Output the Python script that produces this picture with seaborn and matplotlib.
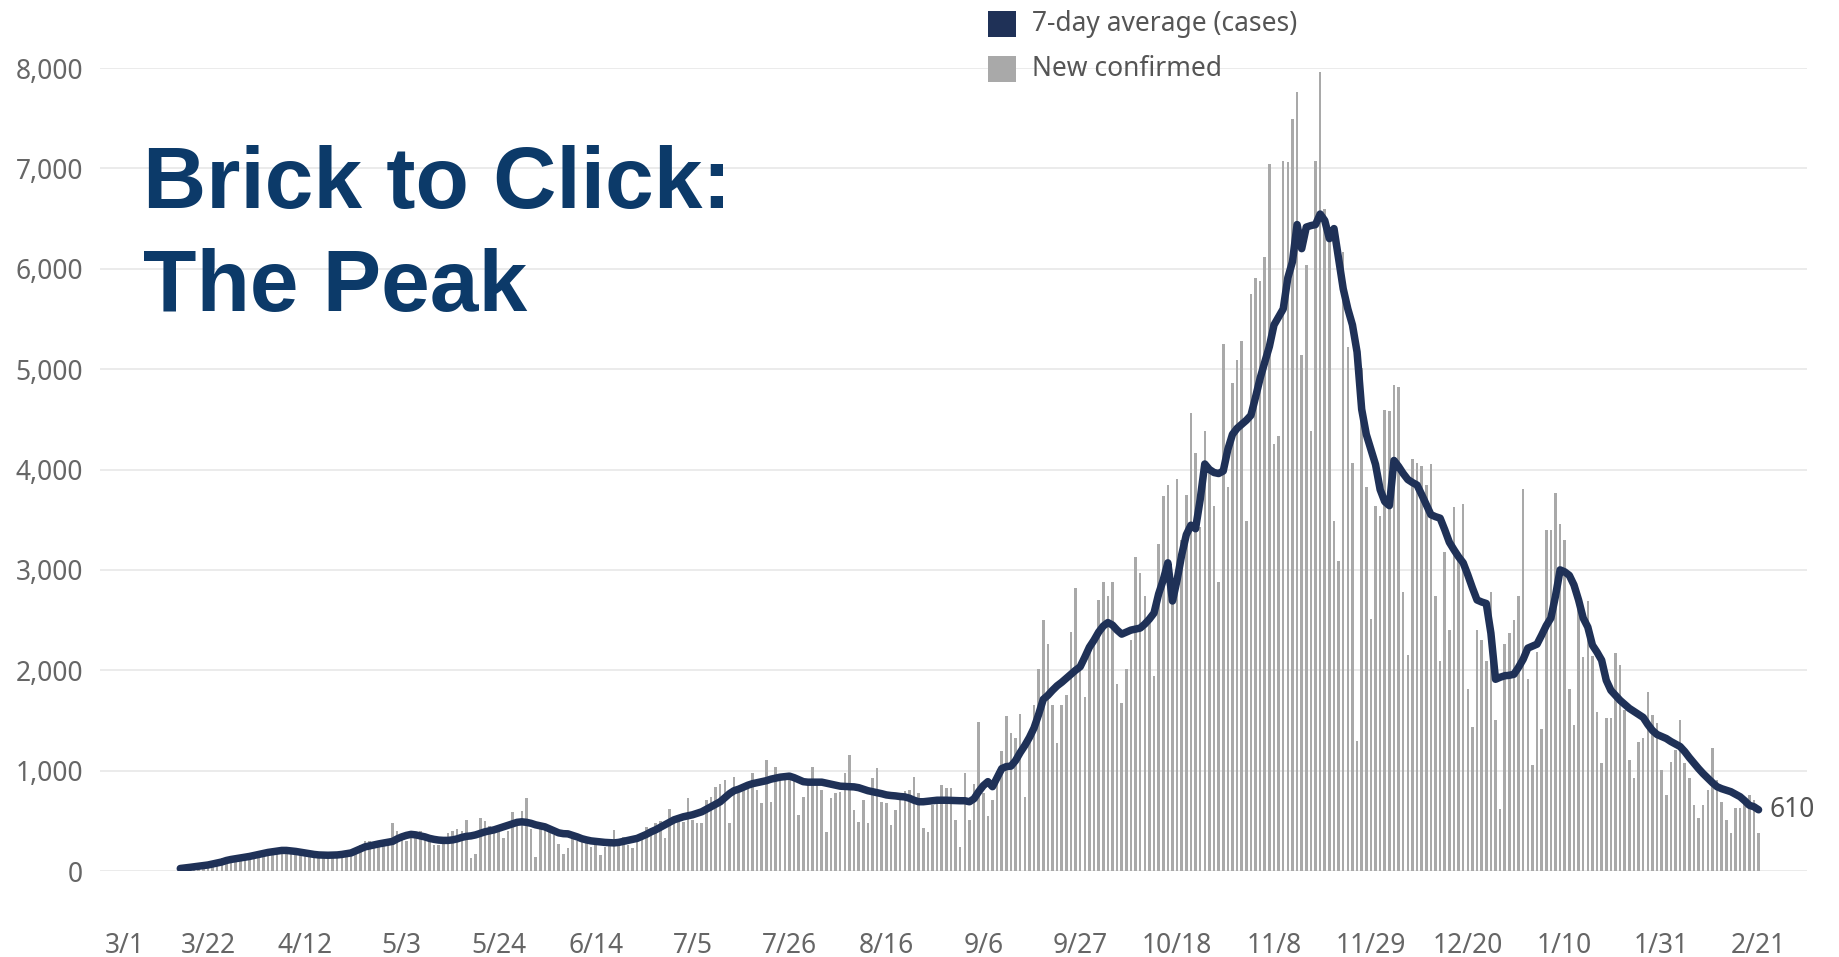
import numpy as np
import pandas as pd
import matplotlib
matplotlib.use("Agg")
import matplotlib.pyplot as plt
import matplotlib.transforms as mtransforms
import seaborn as sns
from matplotlib.patches import Rectangle

# ============================================
# DATA (daily new confirmed cases, 3/16/2020 - 2/21/2021)
# ============================================

mar_cases = [20, 25, 35, 50, 60, 75, 90, 60, 85, 130, 120, 150, 145, 130, 110, 160]
apr_cases = [150, 170, 200, 190, 180, 210, 220, 230, 210, 200,
             190, 170, 160, 170, 180, 150, 165, 150, 140, 170,
             180, 200, 230, 260, 300, 300, 250, 260, 280, 300]
may_cases = [475, 400, 330, 300, 340, 370, 400, 360, 310, 260,
             260, 300, 380, 400, 420, 400, 508, 130, 170, 525,
             497, 450, 420, 420, 330, 400, 590, 520, 600, 724, 420]
jun_cases = [140, 420, 450, 430, 360, 265, 170, 230, 330, 300,
             330, 320, 243, 260, 160, 243, 250, 408, 270, 340,
             260, 225, 320, 375, 440, 408, 480, 500, 330, 620]
jul_cases = [490, 510, 490, 724, 510, 475, 475, 707, 740, 840,
             870, 906, 475, 940, 773, 840, 840, 973, 807, 674,
             1106, 690, 1040, 957, 930, 906, 957, 558, 740, 856, 1040]
aug_cases = [856, 807, 392, 724, 773, 790, 973, 1155, 608, 490,
             707, 475, 923, 1023, 690, 674, 458, 608, 773, 800,
             807, 940, 780, 425, 392, 657, 707, 856, 823, 823, 508]
sep_cases = [243, 973, 508, 870, 1487, 775, 550, 703, 1000, 1200,
             1541, 1370, 1330, 1560, 740, 1380, 1650, 2012, 2505, 2260,
             1655, 1275, 1655, 1750, 2380, 2820, 2010, 1730, 2230, 2300]
oct_cases = [2700, 2876, 2740, 2876, 1865, 1675, 2010, 2300, 3125, 2970,
             2740, 2510, 1940, 3260, 3735, 3850, 2685, 3905, 3300, 3750,
             4565, 4160, 3430, 4380, 3990, 3640, 2880, 5250, 3830, 4860, 5090]
nov_cases = [5280, 3490, 5750, 5910, 5880, 6120, 7040, 4250, 4330, 7070,
             7060, 7490, 7760, 5145, 6040, 4380, 7070, 7960, 6600, 6360,
             3490, 3090, 6170, 5225, 4065, 1300, 5010, 3830, 2510, 3640]
dec_cases = [3540, 4590, 4580, 4840, 4820, 2776, 2150, 4100, 4060, 4030,
             3845, 4050, 2740, 2095, 3180, 2400, 3625, 3180, 3660, 1818,
             1432, 2400, 2300, 2095, 2776, 1506, 620, 2260, 2370, 2500, 2740]
jan_cases = [3810, 1910, 1060, 2180, 1413, 3400, 3400, 3770, 3460, 3300,
             1818, 1450, 2665, 2130, 2690, 2140, 1587, 1072, 1520, 1520,
             2168, 2052, 1603, 1105, 923, 1288, 1321, 1786, 1554, 1471, 1006]
feb_cases = [757, 1089, 1205, 1504, 1072, 923, 657, 524, 657, 806,
             1221, 907, 690, 508, 375, 624, 624, 707, 757, 707, 375]

# 7-day average (cases)
mar_avg = [25, 30, 36, 42, 49, 54, 60, 70, 80, 90, 105, 115, 123, 130, 137, 145]
apr_avg = [155, 165, 175, 185, 192, 198, 205, 205, 200, 195,
           188, 180, 172, 165, 160, 158, 157, 158, 160, 165,
           172, 180, 200, 220, 240, 250, 260, 270, 278, 285]
may_avg = [295, 320, 340, 355, 365, 360, 350, 340, 325, 315,
           308, 305, 305, 310, 320, 335, 345, 350, 360, 375,
           390, 400, 410, 425, 440, 455, 470, 485, 490, 485, 475]
jun_avg = [460, 450, 440, 420, 400, 380, 372, 370, 355, 340,
           322, 310, 300, 295, 290, 285, 282, 280, 285, 295,
           305, 315, 325, 345, 365, 390, 410, 435, 460, 485]
jul_avg = [510, 525, 540, 550, 560, 575, 590, 615, 640, 665,
           690, 730, 770, 800, 815, 835, 855, 870, 880, 890,
           900, 915, 925, 935, 940, 945, 930, 910, 890, 885, 885]
aug_avg = [885, 885, 875, 865, 855, 845, 842, 840, 838, 830,
           815, 800, 790, 780, 770, 758, 752, 748, 742, 738,
           725, 705, 690, 690, 695, 700, 705, 705, 705, 703, 702]
sep_avg = [700, 700, 690, 720, 790, 850, 890, 840, 930, 1020,
           1040, 1045, 1100, 1180, 1250, 1330, 1425, 1560, 1710, 1750,
           1800, 1845, 1880, 1920, 1960, 2000, 2035, 2130, 2230, 2300]
oct_avg = [2380, 2440, 2475, 2450, 2400, 2360, 2380, 2400, 2410, 2420,
           2460, 2510, 2570, 2760, 2900, 3070, 2690, 2900, 3150, 3350,
           3445, 3410, 3700, 4055, 4000, 3970, 3960, 3985, 4200, 4350, 4410]
nov_avg = [4450, 4490, 4540, 4720, 4910, 5070, 5225, 5440, 5520, 5600,
           5910, 6070, 6440, 6200, 6415, 6430, 6440, 6545, 6480, 6300,
           6400, 6100, 5800, 5600, 5440, 5170, 4600, 4350, 4200, 4050]
dec_avg = [3800, 3680, 3640, 4090, 4030, 3960, 3900, 3870, 3845, 3750,
           3650, 3550, 3530, 3515, 3400, 3275, 3200, 3130, 3070, 2950,
           2820, 2700, 2680, 2665, 2370, 1910, 1930, 1945, 1950, 1960, 2030]
jan_avg = [2110, 2220, 2240, 2260, 2350, 2445, 2520, 2740, 3000, 2980,
           2945, 2850, 2700, 2520, 2430, 2250, 2180, 2100, 1900, 1800,
           1750, 1700, 1660, 1620, 1590, 1560, 1530, 1460, 1400, 1360, 1340]
feb_avg = [1320, 1290, 1265, 1240, 1190, 1130, 1075, 1020, 970, 925,
           880, 840, 820, 805, 790, 765, 740, 700, 655, 640, 610]

start_date = "2020-03-16"
tick_start = "2020-03-01"
tick_end = "2021-02-21"
last_label = "610"

new_cases = (mar_cases + apr_cases + may_cases + jun_cases + jul_cases + aug_cases
             + sep_cases + oct_cases + nov_cases + dec_cases + jan_cases + feb_cases)
avg_7day = (mar_avg + apr_avg + may_avg + jun_avg + jul_avg + aug_avg
            + sep_avg + oct_avg + nov_avg + dec_avg + jan_avg + feb_avg)

dates = pd.date_range(start_date, periods=len(new_cases), freq="D")
df = pd.DataFrame({
    "day": np.arange(len(new_cases)),
    "cases": new_cases,
    "avg": avg_7day,
})

tick_dates = pd.date_range(tick_start, tick_end, freq="21D")
tick_pos = (tick_dates - dates[0]).days
tick_labels = [f"{d.month}/{d.day}" for d in tick_dates]

# ============================================
# PLOT
# ============================================

navy = "#1f3157"
bar_gray = "#a9a9a9"
text_gray = "#666666"

sns.set_theme(style="white")
plt.rcParams["font.family"] = ["Noto Sans", "DejaVu Sans"]

W, H = 1840, 957
fig = plt.figure(figsize=(W / 100, H / 100), dpi=100)
ax = fig.add_axes([100 / W, 1 - 871 / H, (1807 - 100) / W, (871 - 68) / H])

sns.barplot(
    data=df, x="day", y="cases", native_scale=True,
    color=bar_gray, saturation=1, width=0.55, linewidth=0,
    errorbar=None, ax=ax
)

sns.lineplot(
    data=df, x="day", y="avg", color=navy, linewidth=5.4,
    solid_capstyle="round", solid_joinstyle="round", ax=ax
)

ax.set_xlim(-17.4, 352.5)
ax.set_ylim(0, 8000)
ax.set_yticks(range(0, 8001, 1000))
ax.set_yticklabels([f"{v:,}" for v in range(0, 8001, 1000)])
ax.set_xticks(tick_pos)
ax.set_xticklabels(tick_labels)
ax.set_xlabel("")
ax.set_ylabel("")

ax.set_axisbelow(True)
ax.yaxis.grid(True, color="#e9e9e9", linewidth=1.3)
ax.xaxis.grid(False)
for s in ax.spines.values():
    s.set_visible(False)

ax.tick_params(axis="y", length=0, pad=12, labelsize=19, labelcolor=text_gray)
ax.tick_params(axis="x", length=0, pad=44, labelsize=19, labelcolor=text_gray)

# the first date label sits a little inside the plot edge
first = ax.get_xticklabels()[0]
first.set_transform(first.get_transform()
                    + mtransforms.ScaledTranslation(14 / 100, 0, fig.dpi_scale_trans))

# end label
ax.annotate(
    last_label, xy=(df["day"].iloc[-1], df["avg"].iloc[-1]),
    xytext=(8, 0), textcoords="offset points",
    ha="left", va="center", fontsize=19, color="#555555"
)

# legend
fig.add_artist(Rectangle((988 / W, 1 - 37 / H), 28 / W, 26 / H,
                         transform=fig.transFigure, color=navy, lw=0))
fig.add_artist(Rectangle((988 / W, 1 - 82 / H), 28 / W, 26 / H,
                         transform=fig.transFigure, color=bar_gray, lw=0))
fig.text(1032 / W, 1 - 24 / H, "7-day average (cases)", fontsize=19,
         color="#555555", ha="left", va="center")
fig.text(1032 / W, 1 - 69 / H, "New confirmed", fontsize=19,
         color="#555555", ha="left", va="center")

# title
fig.text(143 / W, 1 - 208 / H, "Brick to Click:", fontsize=63,
         fontweight="bold", color="#0c3a69", family="Liberation Sans",
         ha="left", va="baseline")
fig.text(143 / W, 1 - 311 / H, "The Peak", fontsize=63,
         fontweight="bold", color="#0c3a69", family="Liberation Sans",
         ha="left", va="baseline")

plt.savefig("out.png", dpi=100)
